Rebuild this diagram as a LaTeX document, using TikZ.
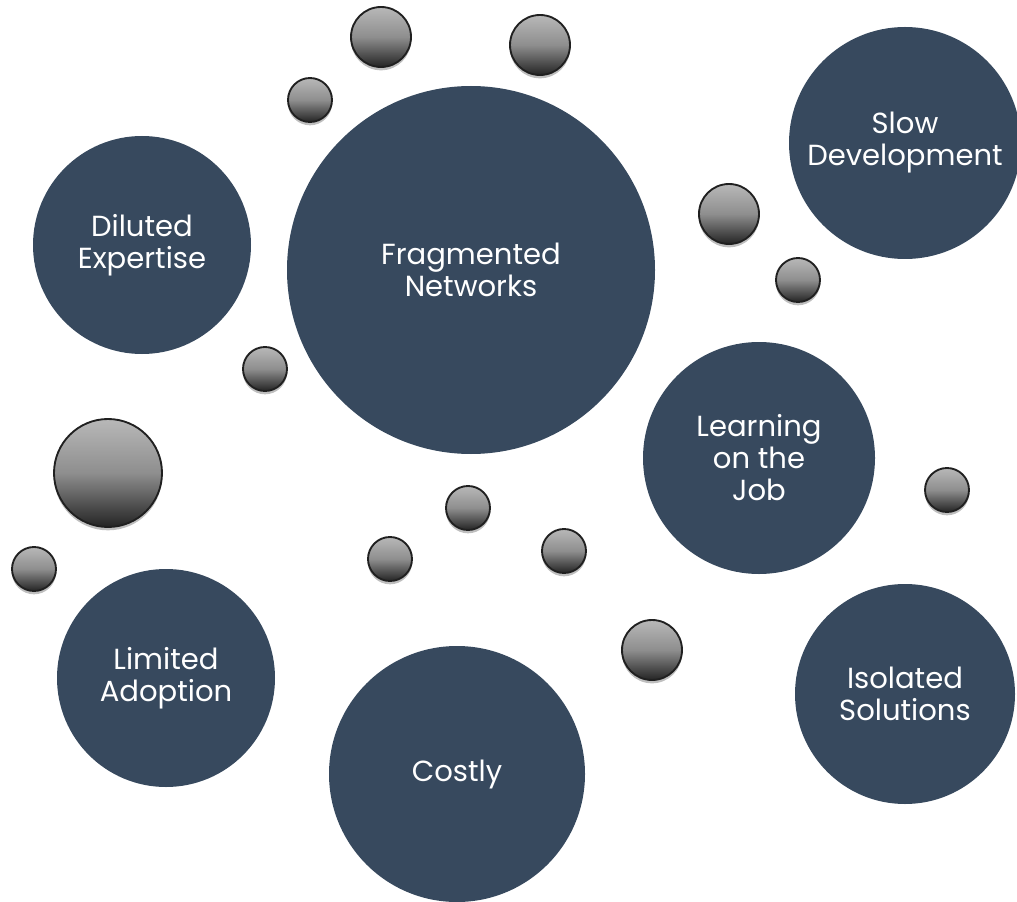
\documentclass[tikz,border=0pt]{standalone}
\usepackage{fontspec}
\setmainfont{Poppins}
\usetikzlibrary{shadows}
\definecolor{navy}{HTML}{37495E}
\definecolor{sphtop}{HTML}{B8B8B8}
\definecolor{sphmid}{HTML}{8E8E8E}
\definecolor{sphbot}{HTML}{242424}
\definecolor{sphline}{HTML}{202020}
\tikzset{
  bub/.style={circle, fill=navy, inner sep=0pt, minimum size=#1*1.5pt,
    text=white, align=center, font=\fontsize{21.8}{24}\selectfont},
  sph/.style={circle, inner sep=0pt, minimum size=#1*1.5pt, draw=sphline, line width=1.4pt,
    top color=sphtop, bottom color=sphbot, middle color=sphmid,
    drop shadow={shadow xshift=0pt, shadow yshift=-2.5pt, opacity=0.25, fill=black}}
}
\begin{document}
\begin{tikzpicture}[x=0.75pt,y=-0.75pt]
\useasboundingbox (0,0) rectangle (1017,902);
% main bubbles
\node[bub=184] (frag) at (471,270) {Fragmented\\Networks};
\node[bub=109] (dil) at (142,245) {Diluted\\Expertise};
\node[bub=116] (slow) at (905,143) {Slow\\Development};
\node[bub=116] (learn) at (759,458) {Learning\\on the\\Job};
\node[bub=110] (iso) at (905,694) {Isolated\\Solutions};
\node[bub=109] (lim) at (166,678) {Limited\\Adoption};
\node[bub=128] (cost) at (457,774) {Costly};
% small spheres
\node[sph=30] (s1) at (381,37) {};
\node[sph=30] (s2) at (540,45) {};
\node[sph=22] (s3) at (310,100) {};
\node[sph=30] (s4) at (729,214) {};
\node[sph=22] (s5) at (798,280) {};
\node[sph=22] (s6) at (265,369) {};
\node[sph=54] (s7) at (108,473) {};
\node[sph=22] (s8) at (947,490) {};
\node[sph=22] (s9) at (468,508) {};
\node[sph=22] (s10) at (390,559) {};
\node[sph=22] (s11) at (564,551) {};
\node[sph=22] (s12) at (34,569) {};
\node[sph=30] (s13) at (652,650) {};
\end{tikzpicture}
\end{document}
